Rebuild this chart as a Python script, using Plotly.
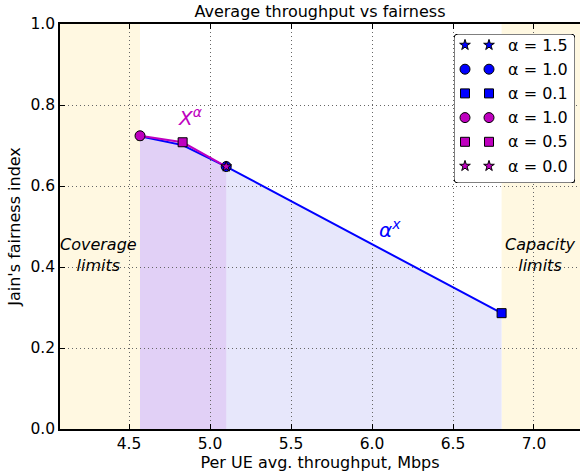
import plotly.graph_objects as go

# ---------------- data ----------------
blue_x = [4.568, 4.83, 5.10, 6.80]
blue_y = [0.723, 0.701, 0.648, 0.286]
blue_mark_idx = [0, 2, 3]
blue_symbols = ["star", "circle", "square"]
blue_labels = ["α = 1.5", "α = 1.0", "α = 0.1"]

mag_x = [4.568, 4.831, 5.10]
mag_y = [0.724, 0.708, 0.648]
mag_symbols = ["circle", "square", "star"]
mag_labels = ["α = 1.0", "α = 0.5", "α = 0.0"]

x_ticks = [4.5, 5.0, 5.5, 6.0, 6.5, 7.0]
y_ticks = [0.0, 0.2, 0.4, 0.6, 0.8, 1.0]
x_range = [4.074, 7.284]
y_range = [0.0, 1.0]

BLUE = "#0000ff"
MAG = "#bf00bf"
CREAM = "#fff8e1"
LAV = "#e7e7fb"
PURP = "#e1d0f6"
FONT = "DejaVu Sans"

W, H = 580, 472
ML, MR, MT, MB = 60, 0, 24, 43

fig = go.Figure()

# ------------- background regions -------------
shapes = []
shapes.append(dict(type="rect", xref="x", yref="y", x0=x_range[0], x1=blue_x[0],
                   y0=y_range[0], y1=y_range[1], fillcolor=CREAM, line_width=0, layer="below"))
shapes.append(dict(type="rect", xref="x", yref="y", x0=blue_x[-1], x1=x_range[1],
                   y0=y_range[0], y1=y_range[1], fillcolor=CREAM, line_width=0, layer="below"))


def area_path(xs, ys):
    p = f"M {xs[0]},0 " + " ".join(f"L {x},{y}" for x, y in zip(xs, ys)) + f" L {xs[-1]},0 Z"
    return p


shapes.append(dict(type="path", xref="x", yref="y", path=area_path(blue_x, blue_y),
                   fillcolor=LAV, line_width=0, layer="below"))
shapes.append(dict(type="path", xref="x", yref="y", path=area_path(mag_x, mag_y),
                   fillcolor=PURP, line_width=0, layer="below"))

# ------------- curves -------------
fig.add_trace(go.Scatter(x=blue_x, y=blue_y, mode="lines", line=dict(color=BLUE, width=2),
                         showlegend=False, hoverinfo="skip"))
fig.add_trace(go.Scatter(x=[blue_x[i] for i in blue_mark_idx], y=[blue_y[i] for i in blue_mark_idx],
                         mode="markers", showlegend=False,
                         marker=dict(color=BLUE, symbol=blue_symbols, size=[7, 10, 9], opacity=1,
                                     line=dict(color="black", width=1))))
fig.add_trace(go.Scatter(x=mag_x, y=mag_y, mode="lines", line=dict(color=MAG, width=2),
                         showlegend=False, hoverinfo="skip"))
fig.add_trace(go.Scatter(x=mag_x, y=mag_y, mode="markers", showlegend=False,
                         marker=dict(color=MAG, symbol=mag_symbols, size=[10, 9, 8], opacity=1,
                                     line=dict(color="black", width=1))))

# ------------- custom legend (two markers per entry) -------------
box_px = (454, 34, 575, 183)  # left, top, right, bottom in pixels
bw = box_px[2] - box_px[0]
bh = box_px[3] - box_px[1]
pw = W - ML - MR
ph = H - MT - MB
x2_dom = [(box_px[0] - ML) / pw, (box_px[2] - ML) / pw]
y2_dom = [(H - MB - box_px[3]) / ph, (H - MB - box_px[1]) / ph]

leg_labels = blue_labels + mag_labels
leg_symbols = blue_symbols + mag_symbols
leg_colors = [BLUE] * 3 + [MAG] * 3
leg_sizes = [8, 10, 9, 10, 9, 8]
row0, row_step = 11.0, 24.2
rows = [row0 + row_step * i for i in range(len(leg_labels))]


def rounded(x0, y0, x1, y1, r):
    return (f"M {x0+r},{y0} L {x1-r},{y0} Q {x1},{y0} {x1},{y0+r} L {x1},{y1-r} "
            f"Q {x1},{y1} {x1-r},{y1} L {x0+r},{y1} Q {x0},{y1} {x0},{y1-r} "
            f"L {x0},{y0+r} Q {x0},{y0} {x0+r},{y0} Z")


shapes.append(dict(type="path", xref="x2", yref="y2", path=rounded(2, 2, bw + 2, bh + 2, 4),
                   fillcolor="#8a8a8a", line_width=0, layer="between"))
shapes.append(dict(type="path", xref="x2", yref="y2", path=rounded(0, 0, bw, bh, 4),
                   fillcolor="white", line=dict(color="black", width=1), layer="between"))

for col_x in (11, 35):
    fig.add_trace(go.Scatter(x=[col_x] * len(rows), y=rows, xaxis="x2", yaxis="y2",
                             mode="markers", showlegend=False, hoverinfo="skip",
                             marker=dict(color=leg_colors, symbol=leg_symbols, size=leg_sizes,
                                         opacity=1, line=dict(color="black", width=1))))

annotations = []
for lab, ry in zip(leg_labels, rows):
    annotations.append(dict(xref="x2", yref="y2", x=52, y=ry, text=lab, showarrow=False,
                            xanchor="left", yanchor="middle",
                            font=dict(family=FONT, size=16, color="black")))

# ------------- text annotations -------------
annotations += [
    dict(xref="x", yref="y", x=4.31, y=0.43, text="<i>Coverage<br>limits</i>", showarrow=False,
         font=dict(family=FONT, size=16, color="black"), align="center"),
    dict(xref="x", yref="y", x=7.04, y=0.43, text="<i>Capacity<br>limits</i>", showarrow=False,
         font=dict(family=FONT, size=16, color="black"), align="center"),
    dict(xref="x", yref="y", x=4.88, y=0.77, text="<i>X</i><sup><i>α</i></sup>", showarrow=False,
         font=dict(family=FONT, size=20, color=MAG)),
    dict(xref="x", yref="y", x=6.11, y=0.495, text="<i>α</i><sup><i>x</i></sup>", showarrow=False,
         font=dict(family=FONT, size=20, color=BLUE)),
]

axis_common = dict(showline=True, linecolor="black", linewidth=1.5,
                   ticks="inside", ticklen=5, tickcolor="black", tickwidth=1,
                   showgrid=True, gridcolor="#666666", gridwidth=1, griddash="1px,3px",
                   zeroline=False, tickfont=dict(family=FONT, size=15.5, color="black"))

fig.update_layout(
    width=W, height=H,
    margin=dict(l=ML, r=MR, t=MT, b=MB, pad=0),
    paper_bgcolor="white", plot_bgcolor="white",
    font=dict(family=FONT, size=16, color="black"),
    title=dict(text="Average throughput vs fairness", x=(ML + pw / 2) / W, xanchor="center",
               y=1 - 11 / H, yanchor="middle", yref="container",
               font=dict(family=FONT, size=16, color="black")),
    xaxis=dict(range=x_range, tickvals=x_ticks, ticktext=[f"{v:.1f}" for v in x_ticks],
               mirror="ticks",
               title=dict(text="Per UE avg. throughput, Mbps", standoff=2,
                          font=dict(family=FONT, size=16)), **axis_common),
    yaxis=dict(range=y_range, tickvals=y_ticks, ticktext=[f"{v:.1f}" for v in y_ticks],
               mirror=False,
               title=dict(text="Jain's fairness index", standoff=6,
                          font=dict(family=FONT, size=16)), **axis_common),
    xaxis2=dict(domain=x2_dom, range=[0, bw], anchor="y2", visible=False, fixedrange=True),
    yaxis2=dict(domain=y2_dom, range=[bh, 0], anchor="x2", visible=False, fixedrange=True),
    shapes=shapes,
    annotations=annotations,
    showlegend=False,
)

fig.write_html("out.html")
